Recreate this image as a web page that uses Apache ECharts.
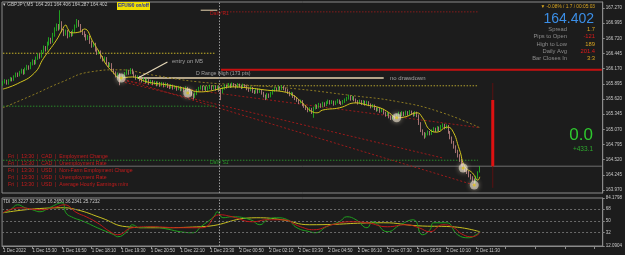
<!DOCTYPE html>
<html><head><meta charset="utf-8">
<script src="https://cdn.jsdelivr.net/npm/echarts@6/dist/echarts.min.js"></script>
<style>html,body{margin:0;padding:0;background:#1c1c1c;overflow:hidden}#c{width:625px;height:255px}</style>
</head><body><div id="c"></div>
<script>
// ---------- data ----------
const timeLabels = ["1 Dec 2022","1 Dec 15:30","1 Dec 16:50","1 Dec 18:10","1 Dec 19:30","1 Dec 20:50","1 Dec 22:10","1 Dec 23:30","2 Dec 00:50","2 Dec 02:10","2 Dec 03:30","2 Dec 04:50","2 Dec 06:10","2 Dec 07:30","2 Dec 08:50","2 Dec 10:10","2 Dec 11:30"];
const barsPerLabel = 16;
const totalSlots = 325;
// [open, close, low, high]
const candles = [
[165.89,165.92,165.86,165.95],[165.92,165.95,165.90,165.98],[165.95,165.90,165.88,165.97],[165.90,165.96,165.88,165.98],[165.96,165.99,165.94,166.02],
[165.99,165.97,165.94,166.01],[165.97,166.03,165.95,166.05],[166.03,166.08,166.01,166.10],[166.08,166.05,166.02,166.10],[166.05,166.10,166.03,166.13],
[166.10,166.14,166.08,166.17],[166.14,166.09,166.06,166.16],[166.09,166.16,166.07,166.19],[166.16,166.21,166.14,166.24],[166.21,166.18,166.15,166.23],
[166.18,166.26,166.16,166.29],[166.26,166.30,166.23,166.34],[166.30,166.27,166.24,166.33],[166.27,166.36,166.25,166.39],[166.36,166.42,166.33,166.45],
[166.42,166.39,166.35,166.44],[166.39,166.48,166.37,166.51],[166.48,166.55,166.45,166.59],[166.55,166.52,166.48,166.58],[166.52,166.62,166.50,166.66],
[166.62,166.70,166.59,166.74],[166.70,166.66,166.62,166.73],[166.66,166.78,166.64,166.82],[166.78,166.88,166.75,166.92],[166.88,166.95,166.85,166.99],
[166.95,166.90,166.86,166.98],[166.90,167.00,166.88,167.23],[167.00,166.86,166.83,167.03],[166.86,166.80,166.76,166.89],[166.80,166.84,166.77,166.88],
[166.84,166.76,166.72,166.87],[166.76,166.82,166.74,166.85],[166.82,166.78,166.75,166.85],[166.78,166.85,166.76,166.88],[166.85,166.93,166.83,166.97],
[166.93,167.02,166.91,167.07],[167.02,166.96,166.93,167.05],[166.96,166.86,166.83,166.98],[166.86,166.82,166.78,166.89],[166.82,166.78,166.74,166.85],
[166.78,166.72,166.68,166.80],[166.72,166.75,166.69,166.78],[166.75,166.66,166.62,166.77],[166.66,166.58,166.55,166.68],[166.58,166.62,166.56,166.65],
[166.62,166.52,166.48,166.64],[166.52,166.45,166.42,166.54],[166.45,166.48,166.43,166.51],[166.48,166.38,166.35,166.50],[166.38,166.33,166.30,166.40],
[166.33,166.36,166.31,166.39],[166.36,166.27,166.24,166.38],[166.27,166.22,166.19,166.29],[166.22,166.25,166.20,166.28],[166.25,166.15,166.12,166.27],
[166.15,166.10,166.07,166.17],[166.10,166.04,166.01,166.12],[166.04,166.07,166.02,166.10],[166.07,165.97,165.87,166.09],[165.97,165.99,165.95,166.02],
[165.99,166.03,165.97,166.06],[166.03,166.08,166.01,166.11],[166.08,166.12,166.06,166.16],[166.12,166.09,166.06,166.14],[166.09,166.15,166.07,166.18],
[166.15,166.10,166.07,166.17],[166.10,166.04,166.01,166.12],[166.04,166.00,165.97,166.06],[166.00,166.02,165.98,166.05],[166.02,165.97,165.94,166.04],
[165.97,165.95,165.92,166.00],[165.95,165.98,165.93,166.01],[165.98,165.93,165.90,166.00],[165.93,165.96,165.91,165.99],[165.96,165.91,165.88,165.98],
[165.91,165.94,165.89,165.97],[165.94,165.90,165.87,165.96],[165.90,165.92,165.88,165.95],[165.92,165.88,165.85,165.94],[165.88,165.91,165.86,165.94],
[165.91,165.87,165.84,165.93],[165.87,165.90,165.85,165.93],[165.90,165.86,165.83,165.92],[165.86,165.89,165.84,165.92],[165.89,165.85,165.82,165.91],
[165.85,165.83,165.80,165.88],[165.83,165.86,165.81,165.89],[165.86,165.82,165.79,165.88],[165.82,165.84,165.80,165.87],[165.84,165.80,165.77,165.86],
[165.80,165.83,165.78,165.86],[165.83,165.79,165.76,165.85],[165.79,165.81,165.77,165.84],[165.81,165.78,165.75,165.83],[165.78,165.82,165.76,165.85],
[165.82,165.79,165.76,165.84],[165.79,165.74,165.71,165.81],[165.74,165.70,165.67,165.76],[165.70,165.66,165.61,165.72],[165.66,165.71,165.64,165.74],
[165.71,165.77,165.69,165.80],[165.77,165.81,165.75,165.84],[165.81,165.84,165.79,165.87],[165.84,165.80,165.77,165.86],[165.80,165.83,165.78,165.86],
[165.83,165.79,165.76,165.85],[165.79,165.82,165.77,165.85],[165.82,165.85,165.80,165.88],[165.85,165.81,165.78,165.87],[165.81,165.84,165.79,165.87],
[165.84,165.80,165.77,165.86],[165.80,165.83,165.78,165.86],[165.83,165.78,165.75,165.85],[165.78,165.74,165.60,165.80],[165.74,165.81,165.72,165.84],
[165.81,165.86,165.79,165.89],[165.86,165.84,165.81,165.88],[165.84,165.88,165.82,165.91],[165.88,165.85,165.82,165.90],[165.85,165.89,165.83,165.92],
[165.89,165.87,165.84,165.91],[165.87,165.84,165.81,165.89],[165.84,165.88,165.82,165.91],[165.88,165.86,165.83,165.90],[165.86,165.83,165.80,165.88],
[165.83,165.87,165.81,165.90],[165.87,165.85,165.82,165.89],[165.85,165.81,165.78,165.87],[165.81,165.78,165.75,165.83],[165.78,165.82,165.76,165.85],
[165.82,165.76,165.73,165.84],[165.76,165.74,165.71,165.78],[165.74,165.79,165.72,165.82],[165.79,165.75,165.72,165.81],[165.75,165.78,165.73,165.81],
[165.78,165.73,165.70,165.80],[165.73,165.68,165.65,165.75],[165.68,165.64,165.60,165.70],[165.64,165.70,165.62,165.73],[165.70,165.67,165.64,165.72],
[165.67,165.72,165.65,165.75],[165.72,165.77,165.70,165.80],[165.77,165.81,165.75,165.84],[165.81,165.79,165.76,165.83],[165.79,165.83,165.77,165.86],
[165.83,165.80,165.77,165.85],[165.80,165.84,165.78,165.87],[165.84,165.81,165.78,165.86],[165.81,165.78,165.75,165.83],[165.78,165.74,165.71,165.80],
[165.74,165.70,165.67,165.76],[165.70,165.72,165.68,165.75],[165.72,165.67,165.64,165.74],[165.67,165.63,165.60,165.69],[165.63,165.60,165.57,165.65],
[165.60,165.56,165.53,165.62],[165.56,165.58,165.54,165.61],[165.58,165.52,165.49,165.60],[165.52,165.49,165.46,165.54],[165.49,165.45,165.42,165.51],
[165.45,165.41,165.38,165.47],[165.41,165.44,165.39,165.47],[165.44,165.38,165.35,165.46],[165.38,165.45,165.28,165.48],[165.45,165.50,165.43,165.53],
[165.50,165.47,165.44,165.52],[165.47,165.52,165.45,165.55],[165.52,165.49,165.46,165.54],[165.49,165.54,165.47,165.57],[165.54,165.51,165.48,165.56],
[165.51,165.55,165.49,165.58],[165.55,165.58,165.53,165.61],[165.58,165.55,165.52,165.60],[165.55,165.57,165.53,165.60],[165.57,165.53,165.50,165.59],
[165.53,165.56,165.51,165.59],[165.56,165.59,165.54,165.62],[165.59,165.56,165.53,165.61],[165.56,165.54,165.51,165.58],[165.54,165.57,165.52,165.60],
[165.57,165.60,165.55,165.63],[165.60,165.63,165.58,165.66],[165.63,165.66,165.61,165.70],[165.66,165.62,165.59,165.68],[165.62,165.65,165.60,165.68],
[165.65,165.61,165.58,165.67],[165.61,165.58,165.55,165.63],[165.58,165.55,165.52,165.60],[165.55,165.58,165.53,165.61],[165.58,165.54,165.51,165.60],
[165.54,165.57,165.52,165.60],[165.57,165.53,165.50,165.59],[165.53,165.56,165.51,165.59],[165.56,165.52,165.49,165.58],[165.52,165.48,165.45,165.54],
[165.48,165.50,165.46,165.53],[165.50,165.45,165.42,165.52],[165.45,165.42,165.39,165.47],[165.42,165.44,165.40,165.47],[165.44,165.40,165.37,165.46],
[165.40,165.42,165.38,165.45],[165.42,165.37,165.34,165.44],[165.37,165.33,165.30,165.39],[165.33,165.35,165.31,165.38],[165.35,165.30,165.27,165.37],
[165.30,165.27,165.24,165.32],[165.27,165.30,165.25,165.33],[165.30,165.28,165.25,165.32],[165.28,165.32,165.26,165.35],[165.32,165.36,165.30,165.39],
[165.36,165.33,165.30,165.38],[165.33,165.37,165.31,165.40],[165.37,165.34,165.31,165.39],[165.34,165.38,165.32,165.41],[165.38,165.35,165.32,165.40],
[165.35,165.39,165.33,165.42],[165.39,165.36,165.33,165.41],[165.36,165.33,165.30,165.38],[165.33,165.37,165.31,165.40],[165.37,165.32,165.29,165.39],
[165.32,165.18,165.15,165.34],[165.18,165.05,165.02,165.20],[165.05,165.00,164.96,165.07],[165.00,164.94,164.90,165.02],[164.94,164.98,164.92,165.01],
[164.98,165.02,164.96,165.05],[165.02,164.99,164.96,165.04],[164.99,165.04,164.97,165.07],[165.04,165.08,165.02,165.11],[165.08,165.05,165.02,165.10],
[165.05,165.10,165.03,165.13],[165.10,165.07,165.04,165.12],[165.07,165.12,165.05,165.15],[165.12,165.15,165.10,165.18],[165.15,165.10,165.07,165.17],
[165.10,165.13,165.08,165.16],[165.13,165.02,164.99,165.15],[165.02,164.92,164.89,165.04],[164.92,164.84,164.81,164.94],[164.84,164.76,164.72,164.86],
[164.76,164.68,164.64,164.78],[164.68,164.60,164.56,164.70],[164.60,164.52,164.48,164.62],[164.52,164.44,164.40,164.54],[164.44,164.38,164.34,164.46],
[164.38,164.34,164.30,164.40],[164.34,164.30,164.26,164.36],[164.30,164.24,164.20,164.32],[164.24,164.20,164.16,164.26],[164.20,164.16,164.12,164.22],
[164.16,164.12,164.06,164.18],[164.12,164.20,164.10,164.23],[164.20,164.29,164.18,164.31],[164.291,164.402,164.287,164.406]
];
const fastMA = [[0,165.80],[8,165.90],[17,166.09],[22,166.36],[29,166.69],[32,166.87],[34,166.96],[35,166.90],[37,166.82],[42,166.84],[44,166.89],[49,166.64],[53,166.42],[56,166.24],[60,166.09],[63,166.00],[70,166.02],[78,165.93],[90,165.87],[100,165.80],[106,165.75],[111,165.76],[118,165.81],[124,165.84],[133,165.82],[143,165.78],[152,165.75],[157,165.69],[162,165.55],[168,165.38],[170,165.37],[173,165.42],[182,165.46],[191,165.55],[197,165.51],[204,165.46],[209,165.37],[213,165.28],[218,165.30],[224,165.37],[227,165.28],[231,165.06],[235,165.02],[240,165.11],[243,165.06],[247,164.70],[250,164.39],[254,164.28],[257,164.15],[258,164.21]];
const slowMA = [[0,165.46],[16,165.69],[32,165.93],[47,166.11],[63,166.15],[80,166.06],[106,165.93],[133,165.87],[160,165.80],[187,165.69],[214,165.57],[236,165.39],[258,165.10]];
const tdiGreen = [[0,62],[4,66.5],[8,74],[12,69.5],[16,66.5],[20,63.5],[25,69.5],[32,77],[34,62],[37,56],[44,48.5],[51,39.5],[60,29],[62,26],[67,33.5],[70,44],[74,39.5],[80,41],[88,38],[96,33.5],[103,32],[107,41],[114,56],[116,63.5],[119,54.5],[124,56],[134,51.5],[139,44],[143,51.5],[148,54.5],[154,51.5],[159,39.5],[166,33.5],[169,32],[175,41],[182,48.5],[186,56],[191,51.5],[197,39.5],[200,48.5],[208,33.5],[215,44],[222,51.5],[227,29],[231,36.5],[233,47],[240,47],[246,29],[252,24.5],[256,29],[258,33.5]];
const tdiRed = [[0,62],[9,69.5],[20,66.5],[29,71],[33,74],[40,62],[45,56],[51,47],[58,33.5],[62,29],[70,39.5],[80,41],[96,39.5],[108,39.5],[117,59],[124,56],[135,48.5],[143,51.5],[151,51.5],[161,41],[168,36.5],[178,44],[188,48.5],[197,47],[208,41],[218,44],[225,39.5],[231,33.5],[238,44],[243,41],[249,29],[254,26],[258,32]];
const tdiYellow = [[0,62],[31,69.5],[40,66.5],[53,54.5],[67,41],[80,39.5],[107,41],[137,54.5],[151,51.5],[166,44],[206,47],[224,42.5],[243,41],[258,33.5]];
const priceTicks = [167.270,166.995,166.720,166.445,166.170,165.895,165.620,165.345,165.070,164.795,164.520,164.245,163.970];
const tdiTicks = [84.1798,68,50,32,12.0904];
const tdiLevels = [68,50,32];
const currentPrice = 164.402;
const dailyR1 = 167.20, dailyS1 = 164.51, rangeHigh = 166.00, redLevel = 166.15;
const yellowLevel = 166.45, greenLevel = 165.49, oliveLevel = 165.86;
const tradeMarks = [[64,166.00],[100,165.73],[213,165.28],[249,164.37],[255,164.06]];
const channelA = [[63,165.96],[258,165.10]];
const channelB = [[63,166.00],[256,164.05]];
const channelC = [[66,165.92],[238,164.55]];
const entryArrow = [[73,166.00],[89,166.29]];
const redBar = [[265,165.60],[265,164.40]];
const redBarThin = [[265,165.91],[265,164.01]];
const newsLines = ["Fri  |  13:30  |  CAD  |  Employment Change","Fri  |  13:30  |  CAD  |  Unemployment Rate","Fri  |  13:30  |  USD  |  Non-Farm Employment Change","Fri  |  13:30  |  USD  |  Unemployment Rate","Fri  |  13:30  |  USD  |  Average Hourly Earnings m/m"];
const infoLabels = ["Spread","Pips to Open","High to Low","Daily Avg","Bar Closes In"];
const infoValues = ["1.7","-121","189","201.4","3:3"];
const infoColors = ["#d9a520","#e01a1a","#d9a520","#e01a1a","#d9a520"];

// ---------- chart ----------
const cats = Array.from({length: totalSlots}, (_, i) => (i % barsPerLabel === 0 && i / barsPerLabel < timeLabels.length) ? timeLabels[i / barsPerLabel] : '');
const FONT = 'Liberation Sans';
function seg(data, color, width, type, z) {
  return {type:'line', xAxisIndex:0, yAxisIndex:0, data, symbol:'none', silent:true, z: z||3,
    lineStyle:{color, width, type: type||'solid'}, animation:false};
}
function hl(v, a, b, color, width, type) { return seg([[a, v],[b, v]], color, width, type); }

const chart = echarts.init(document.getElementById('c'), null, {renderer:'canvas'});
const graphics = [];
graphics.push({type:'text', x:3, y:5, style:{text:'\u25BE GBPJPY,M5  164.291 164.406 164.287 164.402', fill:'#c8c8c8', font:'4.7px '+FONT, verticalAlign:'middle'}});
graphics.push({type:'rect', shape:{x:117, y:2, width:33, height:8}, style:{fill:'#f0e000'}});
graphics.push({type:'text', x:133.5, y:6, style:{text:'EFU/90 on/off', fill:'#1a2ab0', font:'bold 4.8px '+FONT, align:'center', verticalAlign:'middle'}});
graphics.push({type:'text', x:595, y:7, style:{text:'\u25BC -0.08% / 1.7 / 00:05:03', fill:'#d9a520', font:'4.8px '+FONT, align:'right', verticalAlign:'middle'}});
graphics.push({type:'text', x:594, y:19.5, style:{text:'164.402', fill:'#3b8ee6', font:'14px '+FONT, align:'right', verticalAlign:'middle'}});
infoLabels.forEach((t, k) => {
  graphics.push({type:'text', x:567, y:29.5 + k*7.2, style:{text:t, fill:'#8c8c8c', font:'5.8px '+FONT, align:'right', verticalAlign:'middle'}});
  graphics.push({type:'text', x:595, y:29.5 + k*7.2, style:{text:infoValues[k], fill:infoColors[k], font:'5.8px '+FONT, align:'right', verticalAlign:'middle'}});
});
graphics.push({type:'text', x:593, y:135, style:{text:'0.0', fill:'#2ec82e', font:'17px '+FONT, align:'right', verticalAlign:'middle'}});
graphics.push({type:'text', x:593, y:149, style:{text:'+433.1', fill:'#2ea82e', font:'6.5px '+FONT, align:'right', verticalAlign:'middle'}});
graphics.push({type:'text', x:172, y:61, style:{text:'entry on M5', fill:'#a0a0a0', font:'5.9px '+FONT, verticalAlign:'middle'}});
graphics.push({type:'text', x:196, y:74, style:{text:'D Range High (173 pts)', fill:'#a0a0a0', font:'5.2px '+FONT, verticalAlign:'middle'}});
graphics.push({type:'text', x:390, y:78, style:{text:'no drawdown', fill:'#a0a0a0', font:'6px '+FONT, verticalAlign:'middle'}});
graphics.push({type:'text', x:210, y:14, style:{text:'Daily R1', fill:'#c01818', font:'5px '+FONT, verticalAlign:'middle'}});
graphics.push({type:'text', x:210, y:163, style:{text:'Daily S1', fill:'#2a9a2a', font:'5px '+FONT, verticalAlign:'middle'}});
newsLines.forEach((t, k) => {
  graphics.push({type:'text', x:8, y:156.5 + k*6.9, style:{text:t, fill:'#c41c1c', font:'5.2px '+FONT, verticalAlign:'middle'}});
});
graphics.push({type:'text', x:3, y:202, style:{text:'TDI 38.3227 33.2625 16.2650 36.2341 25.7232', fill:'#c8c8c8', font:'4.6px '+FONT, verticalAlign:'middle'}});

const option = {
  backgroundColor:'#1c1c1c',
  animation:false,
  grid:[
    {left:2, right:21, top:2, height:191, show:true, borderColor:'#8a8a8a', borderWidth:1, backgroundColor:'transparent'},
    {left:2, right:21, top:198, height:48, show:true, borderColor:'#8a8a8a', borderWidth:1, backgroundColor:'transparent'}
  ],
  xAxis:[
    {type:'category', gridIndex:0, data:cats, boundaryGap:true, show:false},
    {type:'category', gridIndex:1, data:cats, boundaryGap:true,
      axisLine:{show:true, lineStyle:{color:'#8a8a8a'}},
      axisTick:{show:true, interval:(i)=> i % barsPerLabel === 0, alignWithLabel:true, length:3, lineStyle:{color:'#8a8a8a'}},
      axisLabel:{interval:(i)=> i % barsPerLabel === 0, align:'left', color:'#c8c8c8', fontSize:4.5, fontFamily:FONT, margin:2, hideOverlap:false},
      splitLine:{show:false}}
  ],
  yAxis:[
    {type:'value', gridIndex:0, position:'right', min:163.916, max:167.379, scale:true,
      axisLine:{show:true, lineStyle:{color:'#8a8a8a'}},
      axisTick:{show:true, customValues:priceTicks, length:2, lineStyle:{color:'#8a8a8a'}},
      axisLabel:{customValues:priceTicks, formatter:(v)=>v.toFixed(3), color:'#c8c8c8', fontSize:4.5, fontFamily:FONT, margin:3, showMinLabel:true, showMaxLabel:true},
      splitLine:{show:false}},
    {type:'value', gridIndex:1, position:'right', min:12.0904, max:84.1798,
      axisLine:{show:true, lineStyle:{color:'#8a8a8a'}},
      axisTick:{show:true, customValues:tdiTicks, length:2, lineStyle:{color:'#8a8a8a'}},
      axisLabel:{customValues:tdiTicks, formatter:(v)=>String(v), color:'#c8c8c8', fontSize:4.5, fontFamily:FONT, margin:3, showMinLabel:true, showMaxLabel:true},
      splitLine:{show:false}}
  ],
  graphic: graphics,
  series:[
    hl(yellowLevel, 0, 115, '#c8b428', 1, [1.5,1.5]),
    hl(greenLevel, 0, 115, '#2a8a2a', 1, [1.5,1.5]),
    hl(oliveLevel, 108, 257, '#b0a030', 1, [1.5,1.5]),
    hl(dailyR1, 118, 257, '#8a1c1c', 1, [1.5,1.5]),
    hl(dailyS1, 0, 257, '#2a8a2a', 1, [1.5,1.5]),
    hl(redLevel, 118, totalSlots - 1, '#c81010', 2, 'solid'),
    hl(rangeHigh, 73, 206, '#e6d3ae', 1.5, 'solid'),
    hl(167.23, 107, 116, '#e6d3ae', 1, 'solid'),
    hl(currentPrice, 0, totalSlots - 1, '#6e6e6e', 1, 'solid'),
    seg(channelA, '#9a1a1a', 1, [2,2]),
    seg(channelB, '#9a1a1a', 1, [2,2]),
    seg(channelC, '#9a1a1a', 1, [2,2]),
    seg(entryArrow, '#e6d8b8', 1.2, 'solid', 6),
    seg(redBarThin, '#5a1010', 1, 'solid'),
    seg(redBar, '#dd1111', 3, 'solid'),
    {type:'line', xAxisIndex:0, yAxisIndex:0, data:slowMA, smooth:true, symbol:'none', z:3,
      lineStyle:{color:'#8c7a22', width:1, type:[2,2]}},
    {type:'candlestick', xAxisIndex:0, yAxisIndex:0, data:candles, barWidth:0.6, z:4,
      itemStyle:{color:'#22c322', color0:'#c98a8a', borderColor:'#22c322', borderColor0:'#c98a8a', borderWidth:0.8},
      markLine:{symbol:'none', silent:true, animation:false,
        data:[{xAxis:117}],
        lineStyle:{color:'#9a9a9a', type:[1.5,1.5], width:1}, label:{show:false}}},
    {type:'line', xAxisIndex:0, yAxisIndex:0, data:fastMA, smooth:true, symbol:'none', z:5,
      lineStyle:{color:'#d2c41c', width:1}},
    {type:'scatter', xAxisIndex:0, yAxisIndex:0, data:tradeMarks, symbol:'circle', symbolSize:9, z:7,
      itemStyle:{color:'rgba(235,225,205,0.75)', shadowBlur:5, shadowColor:'rgba(255,240,210,0.8)'}},
    {type:'scatter', xAxisIndex:0, yAxisIndex:0, data:tradeMarks, symbol:'circle', symbolSize:3, z:8,
      itemStyle:{color:'#d8c020'}},
    {type:'line', xAxisIndex:0, yAxisIndex:0, data:[], markLine:{symbol:'none', silent:true,
      data:[{yAxis:currentPrice}], lineStyle:{opacity:0},
      label:{position:'end', formatter:currentPrice.toFixed(3), color:'#000', backgroundColor:'#e8e8e8', fontSize:4.5, fontFamily:FONT, padding:[1,2], distance:3}}},
    {type:'line', xAxisIndex:1, yAxisIndex:1, data:tdiYellow, smooth:true, symbol:'none', z:3,
      lineStyle:{color:'#c8c020', width:1},
      markLine:{symbol:'none', silent:true, data:tdiLevels.map(v=>({yAxis:v})), lineStyle:{color:'#6a6a6a', type:[2,2], width:1}, label:{show:false}}},
    {type:'line', xAxisIndex:1, yAxisIndex:1, data:tdiGreen, smooth:true, symbol:'none', z:4,
      lineStyle:{color:'#1ea01e', width:1}},
    {type:'line', xAxisIndex:1, yAxisIndex:1, data:tdiRed, smooth:true, symbol:'none', z:5,
      lineStyle:{color:'#c01818', width:1},
      markLine:{symbol:'none', silent:true, data:[{xAxis:117}], lineStyle:{color:'#9a9a9a', type:[1.5,1.5], width:1}, label:{show:false}}}
  ]
};
chart.setOption(option);
</script>
</body></html>
